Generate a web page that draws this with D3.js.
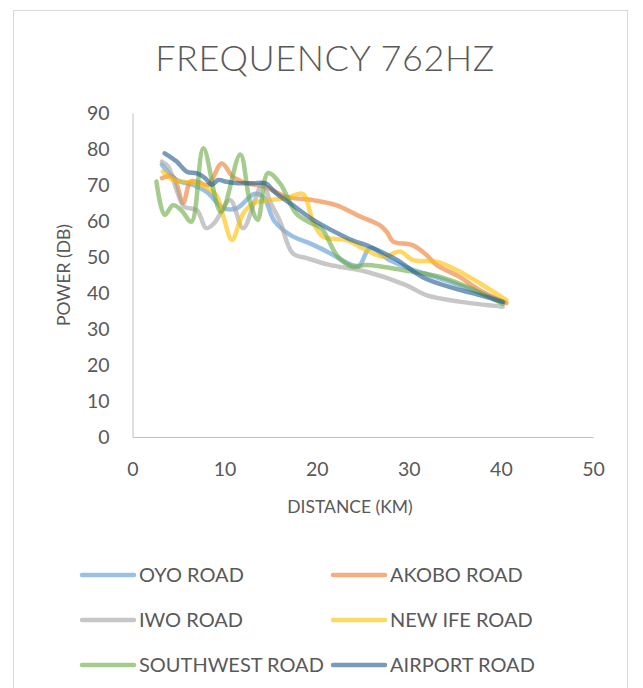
<!DOCTYPE html>
<html>
<head>
<meta charset="utf-8">
<script src="https://cdn.jsdelivr.net/npm/d3@7"></script>
<style>
  body { margin: 0; background: #fff; }
  text { font-family: Lato, "Open Sans", sans-serif; fill: #595959; }
</style>
</head>
<body>
<div id="chart"></div>
<script>
// series names, in draw order
var roads = ["OYO ROAD", "AKOBO ROAD", "IWO ROAD", "NEW IFE ROAD", "SOUTHWEST ROAD", "AIRPORT ROAD"];
var colors = ["#5B9BD5", "#ED7D31", "#A5A5A5", "#FFC000", "#70AD47", "#255E91"];

// distance (km) / power (dB)
var oyoDist    = [3.2, 4.8, 6.6, 8.2, 9.8, 11.3, 13.2, 14.2, 15.4, 17.2, 19.5, 21.5, 23.6, 24.6, 25.8, 28, 30.5, 34, 40.4];
var oyoPower   = [75.6, 71.4, 70, 67.8, 63.6, 63.5, 67.5, 66.7, 60, 56, 53.5, 51, 48, 47.6, 52.5, 49, 46.4, 43.5, 37.5];

var akoboDist  = [3.2, 4.4, 5.5, 6.3, 7.2, 8.2, 9.7, 10.9, 12.4, 14.4, 16.7, 19.6, 22.1, 24.5, 26.8, 27.6, 28.3, 30.4, 31.9, 33, 35.5, 37.7, 40.6];
var akoboPower = [71.9, 72.3, 65, 71, 70.8, 70, 76, 72.3, 70.5, 69.5, 66.7, 65.8, 64.4, 61.5, 58.9, 57, 54.3, 53.3, 50.6, 47.8, 44.5, 40.8, 37.2];

var iwoDist    = [3.2, 3.9, 4.8, 5.6, 7, 8, 8.9, 10.6, 12, 13.3, 14.1, 15, 16, 17.4, 18.9, 21.4, 25.4, 29.7, 31.9, 35.5, 40.2];
var iwoPower   = [76.5, 75, 68.6, 64, 63, 58, 59.5, 65.8, 58, 65.8, 70.5, 65, 60, 51, 49.7, 47.8, 45.9, 42.2, 39.4, 37.6, 36.2];

var ifeDist    = [3.3, 4.4, 5.5, 7, 8.2, 9.1, 9.9, 10.8, 12, 13.1, 14.9, 16.7, 18.5, 19.6, 20.7, 23.2, 25.4, 27.2, 29.1, 30.4, 33, 35.2, 37.7, 40.6];
var ifePower   = [73.7, 71.4, 70.9, 70.5, 69, 67.2, 61, 54.7, 62, 64.9, 65.8, 66.3, 67.5, 59.8, 55.6, 54.7, 51.9, 50.1, 51.5, 49.2, 48.7, 46.4, 42.7, 38];

var swDist     = [2.6, 3.5, 4.4, 5.3, 6.4, 7.7, 9.6, 11.7, 12.7, 13.6, 14.7, 16, 17.8, 19.3, 20.5, 22.3, 23.9, 25.4, 30.4, 33.4, 36.3, 40.2];
var swPower    = [71, 61.7, 64.4, 63, 59.8, 80.2, 62.5, 78.5, 66, 60.3, 73.3, 70.5, 62, 59.5, 58, 50.1, 47.3, 47.8, 45.9, 44.5, 41.8, 37];

var airDist    = [3.5, 4.8, 5.9, 7, 7.9, 8.6, 9.3, 10.2, 11.5, 13.1, 14.4, 15.6, 17.4, 19.5, 23.3, 26.1, 28.7, 31.5, 34.8, 37.7, 40.2];
var airPower   = [78.8, 76.5, 73.7, 73.2, 71.9, 70, 71.4, 70.9, 70.5, 70.5, 70.5, 67.7, 64.4, 60.5, 55.3, 52.5, 49.2, 44.4, 41.4, 39.4, 37.5];

var xTicks = [0, 10, 20, 30, 40, 50];
var yTicks = [0, 10, 20, 30, 40, 50, 60, 70, 80, 90];

var dists = [oyoDist, akoboDist, iwoDist, ifeDist, swDist, airDist];
var powers = [oyoPower, akoboPower, iwoPower, ifePower, swPower, airPower];

var series = roads.map(function(name, i){
	return {
		name: name,
		color: colors[i],
		points: dists[i].map(function(d, j){ return {x: d, y: powers[i][j]}; })
	};
});

var width = 643, height = 688;
var svg = d3.select("#chart").append("svg")
	.attr("width", width)
	.attr("height", height);

// chart frame
svg.append("rect")
	.attr("x", 13.5).attr("y", 10.5)
	.attr("width", 614).attr("height", 700)
	.attr("fill", "#fff")
	.attr("stroke", "#d9d9d9");

var x = d3.scaleLinear().domain([0, 50]).range([132.5, 593]);
var y = d3.scaleLinear().domain([0, 90]).range([437, 113]);

svg.append("text")
	.attr("x", 325).attr("y", 71)
	.attr("text-anchor", "middle")
	.style("font-size", "36px")
	.style("font-weight", 300)
	.style("letter-spacing", "0.6px")
	.text("FREQUENCY 762HZ");

var xAxis = svg.append("g")
	.attr("transform", "translate(0," + y(0) + ")")
	.call(d3.axisBottom(x).tickValues(xTicks).tickSize(0).tickPadding(25));
var yAxis = svg.append("g")
	.attr("transform", "translate(" + x(0) + ",0)")
	.call(d3.axisLeft(y).tickValues(yTicks).tickSize(0).tickPadding(23));

[xAxis, yAxis].forEach(function(a){
	a.select(".domain").attr("stroke", "#bfbfbf").attr("stroke-width", 1);
	a.selectAll("text")
		.style("font-size", "19.5px")
		.style("font-family", "Lato, 'Open Sans', sans-serif")
		.attr("fill", "#595959");
});

svg.append("text")
	.attr("x", 350).attr("y", 513)
	.attr("text-anchor", "middle")
	.style("font-size", "17.5px")
	.text("DISTANCE (KM)");

svg.append("text")
	.attr("transform", "translate(70,275) rotate(-90)")
	.attr("text-anchor", "middle")
	.style("font-size", "17.5px")
	.text("POWER (DB)");

var line = d3.line()
	.x(function(d){ return x(d.x); })
	.y(function(d){ return y(d.y); })
	.curve(d3.curveCatmullRom.alpha(0.5));

svg.append("g").selectAll("path")
	.data(series)
	.enter()
	.append("path")
	.attr("d", function(d){ return line(d.points); })
	.attr("fill", "none")
	.attr("stroke", function(d){ return d.color; })
	.attr("stroke-opacity", 0.62)
	.attr("stroke-width", 4.5)
	.attr("stroke-linecap", "round")
	.attr("stroke-linejoin", "round");

// legend, two columns
var legend = svg.append("g").selectAll("g")
	.data(series)
	.enter()
	.append("g")
	.attr("transform", function(d, i){
		return "translate(" + (i % 2 === 0 ? 82 : 333) + "," + (575 + Math.floor(i / 2) * 45) + ")";
	});

legend.append("line")
	.attr("x1", 0).attr("x2", 52)
	.attr("stroke", function(d){ return d.color; })
	.attr("stroke-opacity", 0.62)
	.attr("stroke-width", 4.5)
	.attr("stroke-linecap", "round");

legend.append("text")
	.attr("x", 57).attr("y", 0)
	.attr("dy", "0.35em")
	.style("font-size", "20px")
	.text(function(d){ return d.name; });
</script>
</body>
</html>
